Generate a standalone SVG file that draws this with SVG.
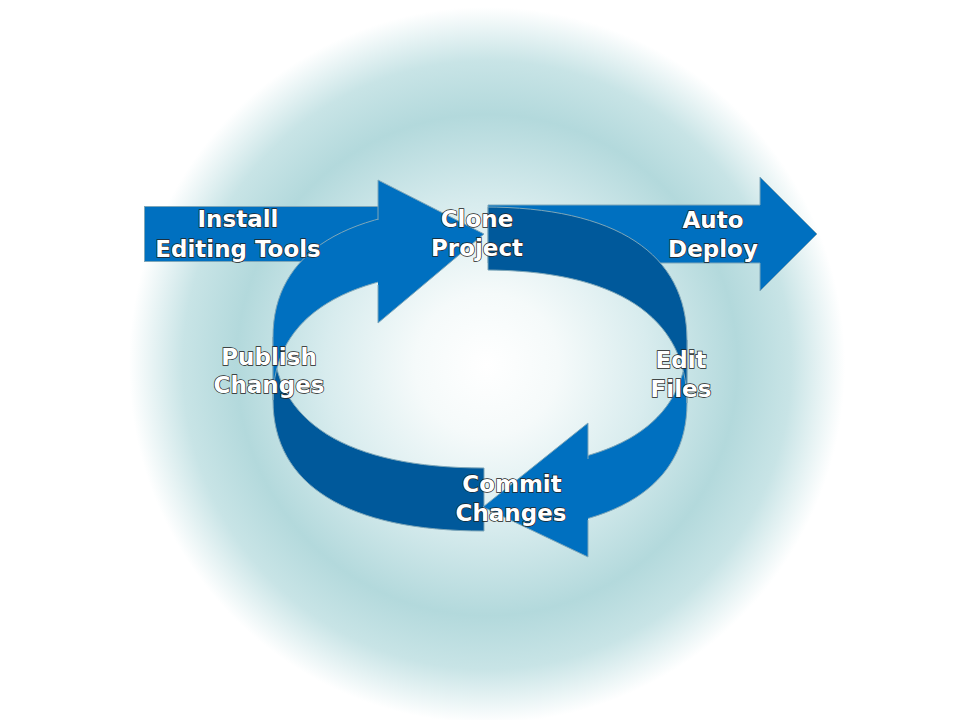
<svg xmlns="http://www.w3.org/2000/svg" width="960" height="720" viewBox="0 0 960 720">
  <defs>
    <radialGradient id="bg" gradientUnits="userSpaceOnUse" cx="487" cy="365" r="358">
      <stop offset="0" stop-color="#ffffff"/>
      <stop offset="0.2" stop-color="#f5fafa"/>
      <stop offset="0.45" stop-color="#d8ecee"/>
      <stop offset="0.7" stop-color="#b3d9dc"/>
      <stop offset="0.85" stop-color="#c8e4e6"/>
      <stop offset="1" stop-color="#ffffff"/>
    </radialGradient>
    <clipPath id="clipLeftLight"><rect x="0" y="0" width="378" height="720"/></clipPath>
    <clipPath id="clipLeftDark"><rect x="0" y="0" width="484" height="720"/></clipPath>
    <clipPath id="clipRightDark"><rect x="488" y="0" width="472" height="720"/></clipPath>
    <clipPath id="clipRightLight"><rect x="588" y="0" width="372" height="720"/></clipPath>
    <path id="upperBand" d="M273,337 C273,252.5 347,207 484,207 C616,207 687,253.5 687,340 L687,403 C687,316.5 616,270 484,270 C347,270 273,315.5 273,400 Z"/>
    <path id="lowerBand" d="M273,337 C273,422 347,468 484,468 C616,468 687,423 687,340 L687,403 C687,486 616,531 484,531 C347,531 273,485 273,400 Z"/>
  </defs>
  <style>
    .light { fill: #0070c0; stroke: #7ea7b9; stroke-width: 1; }
    .dark { fill: #00599b; stroke: #7ea7b9; stroke-width: 1; }
    .edge { fill: none; stroke: #7ea7b9; stroke-width: 1; }
    .lbl { font-family: "DejaVu Sans", Verdana, sans-serif; font-weight: bold; font-size: 23px; fill: #ffffff; stroke: #222222; stroke-width: 1.4; paint-order: stroke; text-anchor: middle; }
  </style>

  <rect x="0" y="0" width="960" height="720" fill="url(#bg)"/>

  <g id="connectors">
    <rect class="light" x="144.5" y="206.5" width="234" height="55"/>
    <path class="light" d="M488,205 L760,205 L760,177 L817,234 L760,291 L760,263 L488,263 Z"/>
    <use href="#lowerBand" class="dark" clip-path="url(#clipLeftDark)"/>
    <line class="edge" x1="484" y1="468" x2="484" y2="531"/>
    <use href="#lowerBand" class="light" clip-path="url(#clipRightLight)"/>
    <path class="light" d="M588,459 L588,423 L483,507 L588,557 L588,520"/>
    <use href="#upperBand" class="dark" clip-path="url(#clipRightDark)"/>
    <line class="edge" x1="488" y1="207" x2="488" y2="270"/>
    <use href="#upperBand" class="light" clip-path="url(#clipLeftLight)"/>
    <path class="light" d="M378,220 L378,180 L484,234 L378,323 L378,285"/>
  </g>

  <g id="node-install">
    <text class="lbl" x="238" y="227">Install</text>
    <text class="lbl" x="238" y="257">Editing Tools</text>
  </g>
  <g id="node-clone">
    <text class="lbl" x="477" y="227">Clone</text>
    <text class="lbl" x="477" y="256">Project</text>
  </g>
  <g id="node-deploy">
    <text class="lbl" x="713" y="228">Auto</text>
    <text class="lbl" x="713" y="257">Deploy</text>
  </g>
  <g id="node-edit">
    <text class="lbl" x="681" y="368">Edit</text>
    <text class="lbl" x="681" y="397">Files</text>
  </g>
  <g id="node-commit">
    <text class="lbl" x="512" y="492">Commit</text>
    <text class="lbl" x="511" y="521">Changes</text>
  </g>
  <g id="node-publish">
    <text class="lbl" x="269" y="365">Publish</text>
    <text class="lbl" x="269" y="393">Changes</text>
  </g>
</svg>
